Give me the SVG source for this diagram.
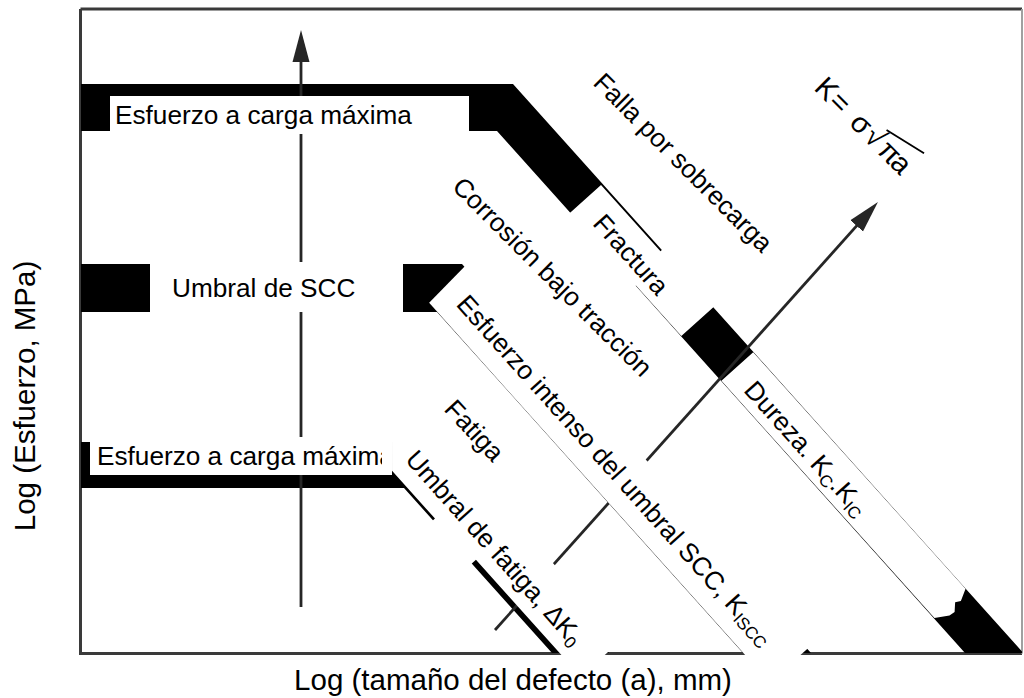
<svg xmlns="http://www.w3.org/2000/svg" width="1024" height="698" viewBox="0 0 1024 698">
  <style>
    .band { fill: #000; }
    .patch { fill: #fff; }
    .lbl { font-family: "Liberation Sans", Arial, sans-serif; font-size: 26.2px; fill: #000; }
    .title { font-family: "Liberation Sans", Arial, sans-serif; font-size: 29.5px; fill: #000; }
    .sub { font-size: 17px; }
    .frame { fill: none; stroke: #3a3a3a; stroke-width: 3; }
    .frame-r { fill: none; stroke: #a0a0a0; stroke-width: 2; }
    .axis { fill: none; stroke: #262626; stroke-width: 2.8; }
  </style>
  <defs>
    <marker id="head" markerUnits="userSpaceOnUse" markerWidth="34" markerHeight="20" viewBox="0 -10 34 20" refX="4" refY="0" orient="auto">
      <path d="M0,-8.5 L32,0 L0,8.5 Z" fill="#262626"/>
    </marker>
    <clipPath id="clip-low">
      <rect x="90" y="437" width="292" height="38"/>
    </clipPath>
  </defs>

  <rect width="1024" height="698" fill="#fff"/>

  <!-- plot frame -->
  <g id="frame">
    <path class="frame" d="M80.5,9 H1022 M80.5,9 V653.5 H1022"/>
    <path class="frame-r" d="M1022,9 V653.5"/>
  </g>

  <!-- failure bands: horizontal stress limits bending into K-controlled diagonals -->
  <g id="bands">
    <polygon id="band-overload" class="band" points="81,84 513,84 1022,651.5 1022,653 965,653 497,131 81,131"/>
    <polygon id="band-scc" class="band" points="81,264 462,264 811,653 743,653 437,312 81,312"/>
    <polygon id="band-fatigue" class="band" points="81,442 420,442 609,653 552,653 404,488 81,488"/>
  </g>

  <!-- axes arrows -->
  <g id="connectors">
    <line class="axis" x1="301" y1="607" x2="301" y2="58" marker-end="url(#head)"/>
    <line class="axis" x1="495" y1="630" x2="859.3" y2="222.9" marker-end="url(#head)"/>
  </g>

  <!-- horizontal labels -->
  <g id="label-max-stress">
    <rect class="patch" x="110" y="96" width="359" height="38"/>
    <text class="lbl" x="115" y="124">Esfuerzo a carga máxima</text>
  </g>
  <g id="label-scc-threshold">
    <rect class="patch" x="150" y="262" width="253" height="50"/>
    <text class="lbl" x="172" y="297">Umbral de SCC</text>
  </g>
  <g id="label-max-stress-low">
    <rect class="patch" x="90" y="437" width="302" height="38"/>
    <text class="lbl" x="97" y="465" clip-path="url(#clip-low)">Esfuerzo a carga máxima</text>
  </g>

  <!-- diagonal labels along the overload band -->
  <g id="label-fractura" transform="translate(513,84) rotate(48.1)">
    <polygon class="patch" points="134,2 223,2 223,-3 300,-3 300,43 232,43 232,45 134,45"/>
    <text class="lbl" x="157" y="35">Fractura</text>
  </g>
  <g id="label-dureza" transform="translate(513,84) rotate(48.1)">
    <polygon class="patch" points="360,0.3 678,0.3 684,12 681,17 688,24 687,30 679,43 360,43"/>
    <text class="lbl" x="382" y="34">Dureza. K<tspan class="sub" dy="4">C</tspan><tspan dy="-4">.K</tspan><tspan class="sub" dy="4">IC</tspan></text>
  </g>

  <!-- diagonal label along the SCC band -->
  <g id="label-kiscc" transform="translate(462,264) rotate(48.1)">
    <polygon class="patch" points="3.5,-2 517,-10 517,50.4 7,50.4"/>
    <text class="lbl" x="26" y="32.5">Esfuerzo intenso del umbral SCC, K<tspan class="sub" dy="4">ISCC</tspan></text>
  </g>

  <!-- diagonal label along the fatigue band -->
  <g id="label-dk0" transform="translate(420,442) rotate(48.1)">
    <polygon class="patch" points="-22.4,17.5 -22.4,-18 282,-18 282,37 125,37 125,44 67,44 67,40 2.7,40"/>
    <text class="lbl" x="3" y="24">Umbral de fatiga, ΔK<tspan class="sub" dy="4">0</tspan></text>
  </g>

  <!-- region labels -->
  <g id="label-falla">
    <text class="lbl" transform="translate(592,84) rotate(45)">Falla por sobrecarga</text>
  </g>
  <g id="label-corrosion">
    <text class="lbl" transform="translate(451,188) rotate(45)">Corrosión bajo tracción</text>
  </g>
  <g id="label-fatiga">
    <text class="lbl" transform="translate(443,410) rotate(47)">Fatiga</text>
  </g>

  <!-- stress intensity formula -->
  <g id="label-formula" transform="translate(813,89) rotate(45)">
    <text class="lbl" style="font-size:29px"><tspan x="0">K</tspan><tspan x="20">=</tspan><tspan x="50">σ</tspan><tspan x="70">√</tspan><tspan x="89">π</tspan><tspan x="107">a</tspan></text>
    <path d="M81,-23 L124,-33" stroke="#000" stroke-width="1.8" fill="none"/>
  </g>

  <!-- axis titles -->
  <g id="axis-titles">
    <text class="title" transform="translate(35,396) rotate(-90)" text-anchor="middle">Log (Esfuerzo, MPa)</text>
    <text class="title" x="513" y="690" text-anchor="middle">Log (tamaño del defecto (a), mm)</text>
  </g>
</svg>
